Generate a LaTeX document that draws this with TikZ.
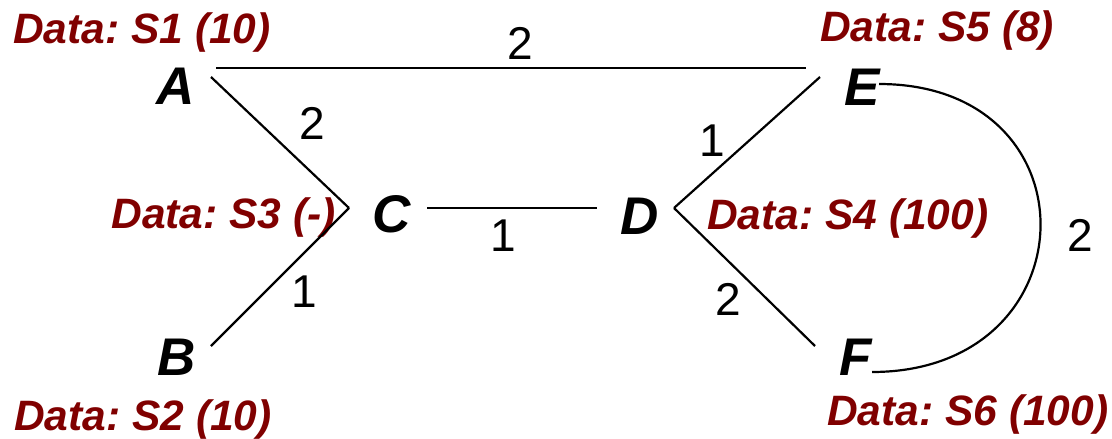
\documentclass[tikz,border=0pt]{standalone}
\usepackage{fontspec}
\setmainfont{Liberation Sans}
\definecolor{datared}{HTML}{800000}
\frenchspacing
\begin{document}
\begin{tikzpicture}[x=1pt,y=-1pt,
  vertex/.style={inner sep=0pt,anchor=base,font=\fontsize{53}{53}\selectfont\bfseries\itshape},
  datalabel/.style={inner sep=0pt,text=datared,font=\fontsize{42.5}{42.5}\selectfont\bfseries\itshape},
  weight/.style={inner sep=0pt,anchor=base,font=\fontsize{46}{46}\selectfont},
  edge/.style={draw=black,line width=2.2pt}]
\useasboundingbox (0,0) rectangle (1112,439);
% vertices
\node[vertex] (A) at (176,104) {A};
\node[vertex] (B) at (177,375) {B};
\node[vertex] (C) at (392,232) {C};
\node[vertex] (D) at (640,234) {D};
\node[vertex] (E) at (862,105) {E};
\node[vertex] (F) at (856,375) {F};
% data labels
\node[datalabel,anchor=base west] (dA) at (13,43) {Data: S1 (10)};
\node[datalabel,anchor=base west] (dB) at (14,430) {Data: S2 (10)};
\node[datalabel,anchor=base east] (dC) at (336,228) {Data: S3 (-)};
\node[datalabel,anchor=base west] (dD) at (707,229) {Data: S4 (100)};
\node[datalabel,anchor=base west] (dE) at (820,41) {Data: S5 (8)};
\node[datalabel,anchor=base west] (dF) at (827,425) {Data: S6 (100)};
% edges
\draw[edge] ([shift={(40,-36)}]A.base) -- ([shift={(-56,-37)}]E.base);
\draw[edge] ([shift={(35,-27)}]A.base) -- ([shift={(-43,-24)}]C.base);
\draw[edge] ([shift={(34,-29)}]B.base) -- ([shift={(-43,-24)}]C.base);
\draw[edge] ([shift={(35,-24)}]C.base) -- ([shift={(-43,-26)}]D.base);
\draw[edge] ([shift={(34,-26)}]D.base) -- ([shift={(-42,-28)}]E.base);
\draw[edge] ([shift={(34,-26)}]D.base) -- ([shift={(-41,-29)}]F.base);
\draw[edge] ([shift={(17,-21)}]E.base) .. controls +(220,0) and +(220,0) .. ([shift={(16,-3)}]F.base);
% weights
\node[weight] (wAE) at (520,59) {2};
\node[weight] (wAC) at (312,139) {2};
\node[weight] (wBC) at (304,307) {1};
\node[weight] (wCD) at (503,251) {1};
\node[weight] (wDE) at (712,156) {1};
\node[weight] (wDF) at (728,315) {2};
\node[weight] (wEF) at (1080,251) {2};
\end{tikzpicture}
\end{document}
